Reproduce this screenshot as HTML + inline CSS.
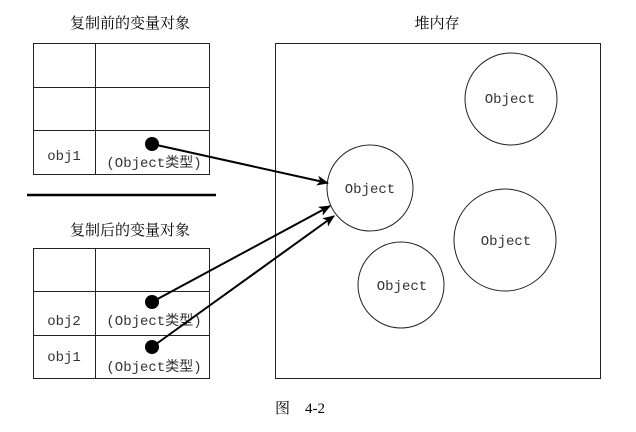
<!DOCTYPE html>
<html><head><meta charset="utf-8"><style>
body{margin:0;background:#fff;width:636px;height:427px;overflow:hidden}
svg text{font-family:"Liberation Serif","Noto Serif CJK SC",serif}
.m{font-family:"Liberation Mono","Noto Sans CJK SC",monospace!important;fill:#333}
</style></head><body>
<svg width="636" height="427" viewBox="0 0 636 427" xmlns="http://www.w3.org/2000/svg">
<defs><marker id="a" markerWidth="12" markerHeight="10" refX="11" refY="5" orient="auto" markerUnits="userSpaceOnUse"><path d="M0,0 L12,5 L0,10 L3,5z" fill="#000"/></marker></defs>
<g fill="#000" font-size="15">
<text x="130" y="28" text-anchor="middle">复制前的变量对象</text>
<text x="437" y="28" text-anchor="middle">堆内存</text>
<text x="130" y="235" text-anchor="middle">复制后的变量对象</text>
<text x="300" y="413" text-anchor="middle">图　4-2</text>
</g>
<g fill="none" stroke="#222" stroke-width="1">
<rect x="33.5" y="43.5" width="176" height="131"/>
<line x1="95.5" y1="43" x2="95.5" y2="175"/>
<line x1="33" y1="87.5" x2="210" y2="87.5"/>
<line x1="33" y1="130.5" x2="210" y2="130.5"/>
<rect x="33.5" y="248.5" width="176" height="130"/>
<line x1="95.5" y1="248" x2="95.5" y2="379"/>
<line x1="33" y1="291.5" x2="210" y2="291.5"/>
<line x1="33" y1="335.5" x2="210" y2="335.5"/>
<rect x="275.5" y="43.5" width="325" height="335"/>
<circle cx="370" cy="188" r="43"/>
<circle cx="511" cy="99" r="46"/>
<circle cx="505" cy="240" r="51"/>
<circle cx="401" cy="285" r="43"/>
</g>
<line x1="27" y1="195" x2="216" y2="195" stroke="#000" stroke-width="2.5"/>
<g font-size="14">
<text class="m" x="64" y="160" text-anchor="middle">obj1</text>
<text class="m" x="154" y="167" text-anchor="middle">(Object类型)</text>
<text class="m" x="64" y="325" text-anchor="middle">obj2</text>
<text class="m" x="154" y="325" text-anchor="middle">(Object类型)</text>
<text class="m" x="64" y="361" text-anchor="middle">obj1</text>
<text class="m" x="154" y="371" text-anchor="middle">(Object类型)</text>
<text class="m" x="370" y="193" text-anchor="middle">Object</text>
<text class="m" x="510" y="103" text-anchor="middle">Object</text>
<text class="m" x="506" y="245" text-anchor="middle">Object</text>
<text class="m" x="402" y="290" text-anchor="middle">Object</text>
</g>
<g fill="#000"><circle cx="152" cy="144" r="7"/><circle cx="152" cy="302" r="7"/><circle cx="152" cy="347" r="7"/></g>
<g stroke="#000" stroke-width="2" marker-end="url(#a)">
<line x1="152" y1="144" x2="328" y2="183"/>
<line x1="152" y1="302" x2="330" y2="206"/>
<line x1="152" y1="347" x2="334" y2="216"/>
</g>
</svg>
</body></html>
